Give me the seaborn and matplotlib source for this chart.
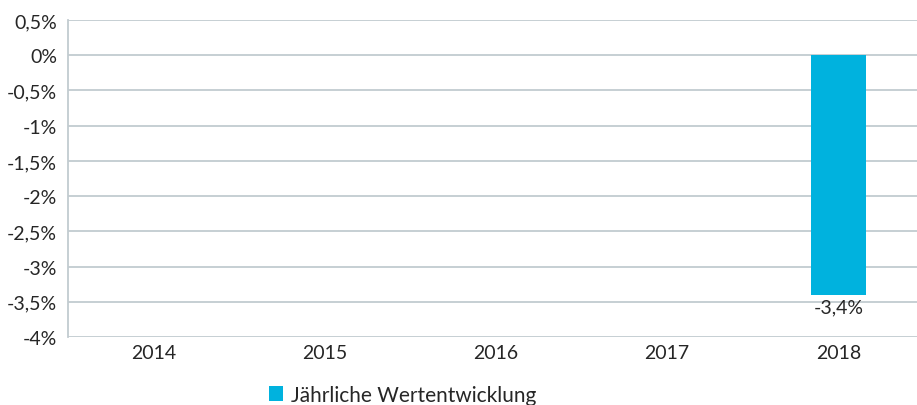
import numpy as np
import pandas as pd
import seaborn as sns
import matplotlib.pyplot as plt
from matplotlib.patches import Patch

years = ["2014", "2015", "2016", "2017", "2018"]
values = [np.nan, np.nan, np.nan, np.nan, -3.4]
series_name = "Jährliche Wertentwicklung"
y_ticks = [0.5, 0, -0.5, -1, -1.5, -2, -2.5, -3, -3.5, -4]

sns.set_style("white")
plt.rcParams['font.family'] = ['Lato', 'DejaVu Sans']

bar_color = "#00B2DE"
grid_color = "#C2CBD0"
text_color = "#262626"

df = pd.DataFrame({"Jahr": years, "Wert": values})

fig = plt.figure(figsize=(9.17, 4.06), dpi=100)
ax = fig.add_axes([68 / 917, 1 - 338 / 406, 856 / 917, (338 - 21) / 406])

sns.barplot(data=df, x="Jahr", y="Wert", color=bar_color, width=0.32,
            saturation=1, linewidth=0, ax=ax)

ax.set_ylim(-4, 0.5)
ax.set_xlim(-0.5, 4.5)
ax.set_yticks(y_ticks)
ax.set_yticklabels([(f"{t:g}".replace(".", ",") + "%") for t in y_ticks])
ax.set_xlabel("")
ax.set_ylabel("")

for t in y_ticks:
    ax.axhline(t, color=grid_color, lw=1.3, zorder=0)

for s in ["top", "right", "bottom"]:
    ax.spines[s].set_visible(False)
ax.spines["left"].set_color(grid_color)
ax.spines["left"].set_linewidth(1.3)

ax.tick_params(axis="both", length=0, labelsize=14, colors=text_color)
ax.tick_params(axis="y", pad=8)
ax.tick_params(axis="x", pad=5)

for i, v in enumerate(values):
    if not np.isnan(v):
        ax.text(i, v - 0.05, (f"{v:g}".replace(".", ",") + "%"), ha="center",
                va="top", fontsize=14, color=text_color)

handle = Patch(facecolor=bar_color, edgecolor="none")
fig.legend([handle], [series_name], loc="center left",
           bbox_to_anchor=(250 / 917, 1 - 396 / 406), frameon=False,
           fontsize=15, handlelength=0.7, handleheight=0.7, handletextpad=0.35,
           labelcolor=text_color)

fig.savefig("out.png", dpi=100)
